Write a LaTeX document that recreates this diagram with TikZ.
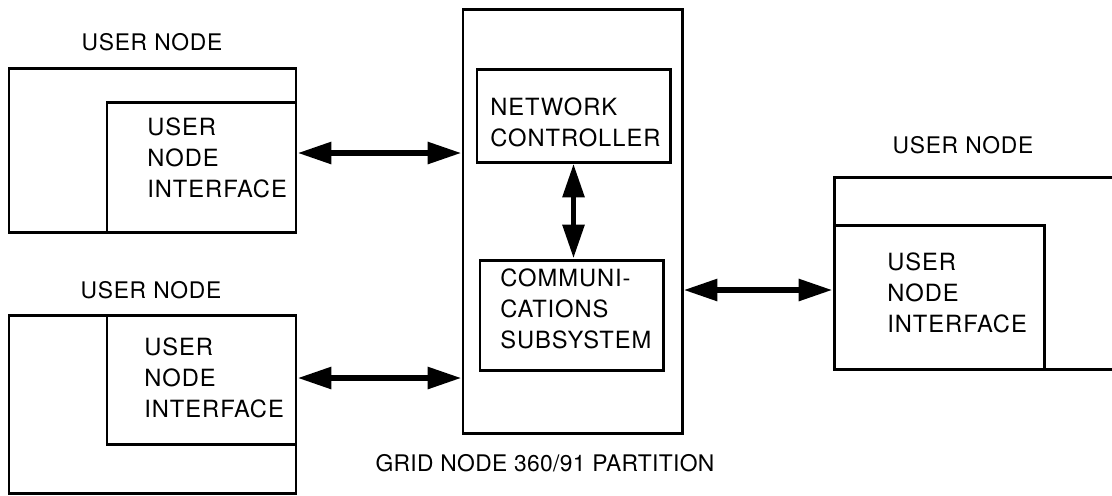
\documentclass[tikz,border=0pt]{standalone}
\usepackage{fontspec}
\setmainfont{TeX Gyre Heros}
\usetikzlibrary{arrows.meta,fit}
\tikzset{
 box/.style={draw, line width=1.7pt, inner sep=0pt, rectangle},
 lbl/.style={font=\fontsize{13.5}{17.5}\selectfont\addfontfeatures{LetterSpace=4}, inner sep=0pt, align=left, anchor=west},
 captxt/.style={font=\fontsize{13}{17.5}\selectfont\addfontfeatures{LetterSpace=3}, inner sep=0pt},
 bigcap/.style={font=\fontsize{13}{17.5}\selectfont\addfontfeatures{LetterSpace=1.5}, inner sep=0pt},
 biarrow/.style={line width=3.4pt, {Triangle[length=0.68cm,width=0.42cm]}-{Triangle[length=0.68cm,width=0.42cm]}},
}
\begin{document}
\begin{tikzpicture}[x=0.02cm,y=-0.02cm]
\useasboundingbox (0,0) rectangle (1112,495);
\fill[white] (0,0) rectangle (1112,495);
\clip (0,0) rectangle (1112,495);
% top-left user node
\node[captxt] (l1) at (152,42) {USER NODE};
\node[box, fit={(9,68) (296,232)}] (un1) {};
\node[box, fit={(107,102) (296,232)}] (ui1) {};
\node[lbl] (t1) at (147,158) {USER\\NODE\\INTERFACE};
% bottom-left user node
\node[captxt] (l2) at (151,290) {USER NODE};
\node[box, fit={(9,315) (296,493)}] (un2) {};
\node[box, fit={(107,315) (296,444)}] (ui2) {};
\node[lbl] (t2) at (144,378) {USER\\NODE\\INTERFACE};
% grid node
\node[box, fit={(463,9) (682,433)}] (grid) {};
\node[box, fit={(477,69) (670,162)}] (nc) {};
\node[lbl] (t3) at (490,122) {NETWORK\\CONTROLLER};
\node[box, fit={(480,260) (663,370)}] (cs) {};
\node[lbl] (t4) at (500,309) {COMMUNI-\\CATIONS\\SUBSYSTEM};
\node[bigcap] (l3) at (545,463) {GRID NODE 360/91 PARTITION};
% right user node
\node[captxt] (l4) at (963,145) {USER NODE};
\node[box, fit={(834,177) (1135,369)}] (un3) {};
\node[box, fit={(834,225) (1044,369)}] (ui3) {};
\node[lbl] (t5) at (887,293) {USER\\NODE\\INTERFACE};
% connectors
\coordinate (y1) at (0,153);
\coordinate (y2) at (0,378);
\coordinate (y4) at (0,290);
\draw[biarrow] (ui1.east |- y1) -- (grid.west |- y1);
\draw[biarrow] (ui2.east |- y2) -- (grid.west |- y2);
\draw[biarrow] (nc.south) -- (cs.north -| nc.south);
\draw[biarrow] (grid.east |- y4) -- (ui3.west |- y4);
\end{tikzpicture}
\end{document}
